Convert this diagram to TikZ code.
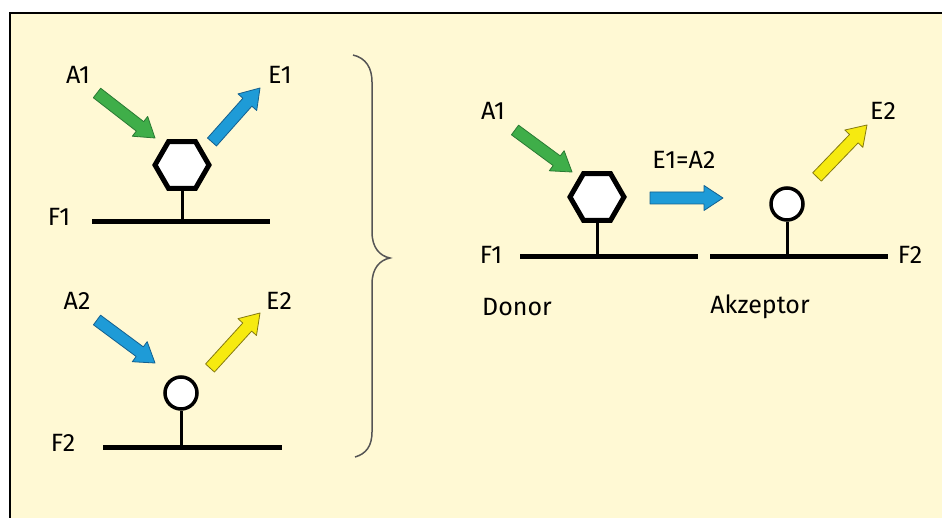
\documentclass[tikz,border=0pt]{standalone}
\usepackage{fontspec}
\setmainfont{Fira Sans}
\usetikzlibrary{shapes.geometric,calc}
\definecolor{bg}{HTML}{FFF9D4}
\definecolor{gfill}{HTML}{3FAE49}
\definecolor{gline}{HTML}{2A7A33}
\definecolor{bfill}{HTML}{1E9BD7}
\definecolor{bline}{HTML}{14608F}
\definecolor{yfill}{HTML}{F6EA10}
\definecolor{yline}{HTML}{857A10}
\definecolor{bracec}{HTML}{555555}
\newcommand\fatarrow[4]{%
  \coordinate (#1h) at ($(#3)!19pt!(#2)$);
  \draw[fatarr,#4] ($(#2)!6pt!90:(#3)$) -- ($(#1h)!6pt!90:(#3)$) -- ($(#1h)!12.5pt!90:(#3)$) -- (#3)
     -- ($(#1h)!12.5pt!-90:(#3)$) -- ($(#1h)!6pt!-90:(#3)$) -- ($(#2)!6pt!-90:(#3)$) -- cycle;}
\begin{document}
\begin{tikzpicture}[x=1pt,y=-1pt,
  lbl/.style={font=\fontsize{25}{30}\selectfont, inner sep=0pt},
  bar/.style={line width=5pt},
  stem/.style={line width=3pt},
  hex/.style={regular polygon, regular polygon sides=6, minimum size=54pt, inner sep=0pt, draw=black, line width=5pt, fill=white},
  ring/.style={circle, minimum size=32pt, inner sep=0pt, draw=black, line width=3.5pt, fill=white},
  fatarr/.style={line width=0.8pt, line join=round},
  green/.style={fill=gfill, draw=gline},
  blue/.style={fill=bfill, draw=bline},
  yellow/.style={fill=yfill, draw=yline},
  brace/.style={draw=bracec, line width=1.5pt}
]
\useasboundingbox (0,0) rectangle (942,518);
\fill[white] (0,0) rectangle (942,518);
\fill[bg] (10,13) rectangle (942,518);
\draw[line width=2.5pt] (10,520) -- (10,13) -- (944,13);

% ---- left top: donor ----
\node[hex] (hexA) at (182,165) {};
\coordinate (barAl) at (92,222);
\coordinate (barAr) at (270,222);
\coordinate (barAm) at (182,222);
\draw[stem] (hexA.south) -- (barAm);
\draw[bar] (barAl) -- (barAr);
\node[lbl] (F1a) at (59,217) {F1};
\node[lbl] (A1a) at (78,75) {A1};
\node[lbl] (E1a) at (280,75) {E1};
\coordinate (g1s) at (97,93); \coordinate (g1e) at (155,138);
\fatarrow{g1}{g1s}{g1e}{green}
\coordinate (b1s) at (212,142); \coordinate (b1e) at (260,88);
\fatarrow{b1}{b1s}{b1e}{blue}

% ---- left bottom: acceptor ----
\node[ring] (ringA) at (181,393) {};
\coordinate (barBl) at (103,447);
\coordinate (barBr) at (282,447);
\coordinate (barBm) at (181,447);
\draw[stem] (ringA.south) -- (barBm);
\draw[bar] (barBl) -- (barBr);
\node[lbl] (F2a) at (63,443) {F2};
\node[lbl] (A2a) at (77,301) {A2};
\node[lbl] (E2a) at (279,301) {E2};
\coordinate (b2s) at (97,320); \coordinate (b2e) at (155,363);
\fatarrow{b2}{b2s}{b2e}{blue}
\coordinate (y1s) at (210,368); \coordinate (y1e) at (260,313);
\fatarrow{y1}{y1s}{y1e}{yellow}

% ---- brace ----
\draw[brace] (353,55) .. controls (366,58) and (372,68) .. (372,82) -- (372,232)
  .. controls (372,248) and (380,256) .. (390,258)
  .. controls (380,260) and (372,268) .. (372,284) -- (372,432)
  .. controls (372,446) and (366,454) .. (355,457);

% ---- right: FRET ----
\node[hex] (hexB) at (597,197) {};
\node[ring] (ringB) at (787,204) {};
\coordinate (barCl) at (520,257);
\coordinate (barCr) at (698,257);
\coordinate (barCm) at (597,257);
\coordinate (barDl) at (710,257);
\coordinate (barDr) at (888,257);
\coordinate (barDm) at (787,257);
\draw[stem] (hexB.south) -- (barCm);
\draw[stem] (ringB.south) -- (barDm);
\draw[bar] (barCl) -- (barCr);
\draw[bar] (barDl) -- (barDr);
\node[lbl] (F1b) at (491,255) {F1};
\node[lbl] (F2b) at (910,255) {F2};
\node[lbl] (A1b) at (493,111) {A1};
\node[lbl] (E1A2) at (684,160) {E1=A2};
\node[lbl] (E2b) at (883,111) {E2};
\node[lbl] (donor) at (517,307) {Donor};
\node[lbl] (akz) at (760,307) {Akzeptor};
\coordinate (g2s) at (515,130); \coordinate (g2e) at (572,172);
\fatarrow{g2}{g2s}{g2e}{green}
\coordinate (b3s) at (650,198); \coordinate (b3e) at (723,198);
\fatarrow{b3}{b3s}{b3e}{blue}
\coordinate (y2s) at (817,177); \coordinate (y2e) at (867,125);
\fatarrow{y2}{y2s}{y2e}{yellow}
\end{tikzpicture}
\end{document}
